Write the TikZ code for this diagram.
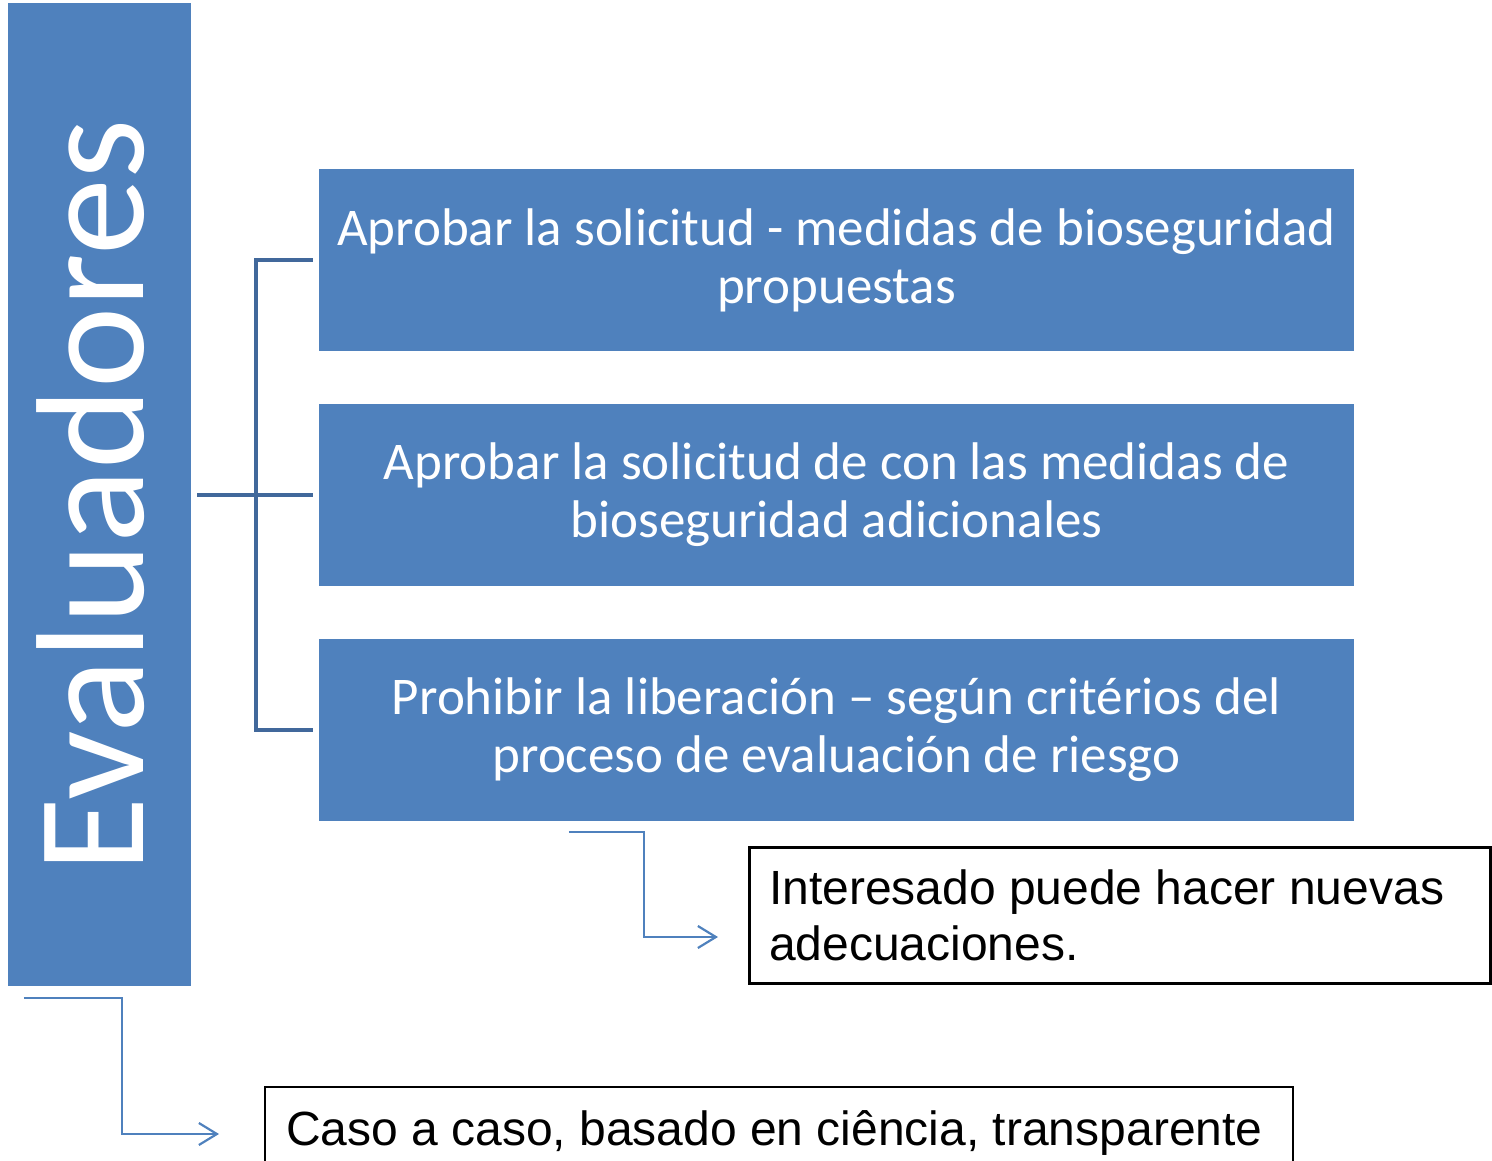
\documentclass[tikz,border=0pt]{standalone}
\usepackage{fontspec}
\setmainfont{Carlito}
\newfontfamily\arialf{Liberation Sans}
\usetikzlibrary{arrows.meta,calc}
\definecolor{boxblue}{HTML}{4F81BD}
\definecolor{brk}{RGB}{65,104,155}
\setlength{\parindent}{0pt}
\begin{document}
\begin{tikzpicture}[x=1pt,y=-1pt,
  evalbox/.style={fill=boxblue, draw=none, minimum width=183pt, minimum height=983pt, inner sep=0pt},
  evaltext/.style={text=white, inner sep=0pt, font=\fontsize{154}{180}\selectfont},
  bluebox/.style={fill=boxblue, draw=none, minimum width=1035pt, minimum height=182pt, text width=1025pt, inner xsep=5pt, align=flush center, text=white, font=\fontsize{53}{58}\selectfont},
  bracket/.style={draw=brk, line width=4pt},
  arr/.style={draw=boxblue, line width=2.2pt, -{Straight Barb[length=18pt,width=22pt,line width=2.2pt]}},
  notebox/.style={draw=black, line width=3pt, align=flush left, font=\arialf\fontsize{48}{56}\selectfont}
]
\useasboundingbox (0,0) rectangle (1492,1161);
\begin{scope}
\clip (0,0) rectangle (1492,1161);
\node[evalbox] (eval) at (99.5,494.5) {};
\node[evaltext, rotate=90, anchor=base] (evaltxt) at (143,495.5) {Evaluadores};

\node[bluebox] (b1) at (836.5,260) {Aprobar la solicitud - medidas de bioseguridad\\propuestas};
\node[bluebox] (b2) at (836.5,494.5) {Aprobar la solicitud de con las medidas de\\bioseguridad adicionales};
\node[bluebox] (b3) at (836.5,730) {Prohibir la liberación – según critérios del\\proceso de evaluación de riesgo};

\coordinate (bx) at (256,0);
\draw[bracket] ($(b1.west)+(-6,0)$) -- (b1.west -| bx) -- (b3.west -| bx) -- ($(b3.west)+(-6,0)$);
\draw[bracket] ($(eval.east)+(6,0)$) -- ($(b2.west)+(-6,0)$);

\node[notebox, minimum width=741pt, minimum height=136pt, text width=701pt, inner xsep=20pt] (int) at (1119.5,915) {Interesado puede hacer nuevas\\adecuaciones.};
\node[notebox, line width=2.5pt, minimum width=1028pt, minimum height=91pt, text width=986pt, inner xsep=21pt] (caso) at (779,1132.5) {Caso a caso, basado en ciência, transparente};

\coordinate (a1s) at ($(b3.south west)+(250,11)$);
\coordinate (a1e) at (718,937);
\draw[arr] (a1s) -- ++(75,0) |- (a1e);

\coordinate (a2s) at ($(eval.south west)+(16,12)$);
\coordinate (a2e) at (219,1134);
\draw[arr] (a2s) -- ++(98,0) |- (a2e);
\end{scope}
\end{tikzpicture}
\end{document}
